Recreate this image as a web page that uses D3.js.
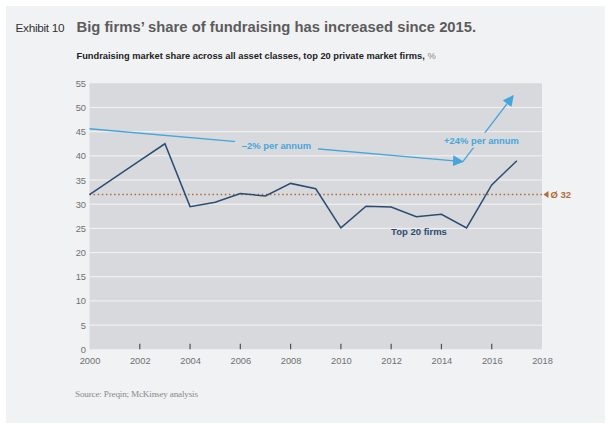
<!DOCTYPE html>
<html>
<head>
<meta charset="utf-8">
<script src="https://cdn.jsdelivr.net/npm/d3@7"></script>
<style>
  body { margin: 0; background: #fff; }
  text { font-family: "Liberation Sans", Arial, sans-serif; }
</style>
</head>
<body>
<div id="chart"></div>
<script>
// Data
const years = [2000, 2001, 2002, 2003, 2004, 2005, 2006, 2007, 2008, 2009,
               2010, 2011, 2012, 2013, 2014, 2015, 2016, 2017];
const top20Share = [32.0, 35.5, 39.0, 42.5, 29.5, 30.4, 32.2, 31.7, 34.3, 33.2,
                    25.1, 29.6, 29.4, 27.4, 27.9, 25.1, 34.0, 39.0];
const average = 32;
const trendDown = [[2000, 45.6], [2014.85, 38.8]];
const trendUp = [[2014.85, 38.8], [2016.85, 52.4]];
const yTicks = [0, 5, 10, 15, 20, 25, 30, 35, 40, 45, 50, 55];
const xTicks = [2000, 2002, 2004, 2006, 2008, 2010, 2012, 2014, 2016, 2018];

const svgWidth = 612;
const svgHeight = 430;
const plot = { left: 89.5, right: 542, top: 83.3, bottom: 349.3 };

const navy = "#2b4c73";
const lightBlue = "#45a6dc";
const brown = "#b06c3a";
const plotBg = "#d8d9dc";

const svg = d3.select("#chart").append("svg")
    .attr("width", svgWidth)
    .attr("height", svgHeight);

// marker for arrowheads
svg.append("defs").append("marker")
    .attr("id", "arrow")
    .attr("viewBox", "0 0 10 10")
    .attr("refX", 9)
    .attr("refY", 5)
    .attr("markerUnits", "userSpaceOnUse")
    .attr("markerWidth", 11)
    .attr("markerHeight", 11)
    .attr("orient", "auto")
    .append("path")
    .attr("d", "M0,0 L10,5 L0,10 Z")
    .attr("fill", lightBlue);

// grey panel
svg.append("rect")
    .attr("x", 6).attr("y", 6)
    .attr("width", 599).attr("height", 417)
    .attr("fill", "#f1f2f4");

// Scales
const x = d3.scaleLinear().domain([2000, 2018]).range([plot.left, plot.right]);
const y = d3.scaleLinear().domain([0, 55]).range([plot.bottom, plot.top]);

// plot background
svg.append("rect")
    .attr("x", x(2000)).attr("y", y(55))
    .attr("width", x(2018) - x(2000))
    .attr("height", y(0) - y(55))
    .attr("fill", plotBg);

// gridlines
svg.append("g")
    .selectAll("line")
    .data(yTicks.filter(d => d > 0 && d < 55))
    .enter().append("line")
    .attr("x1", x(2000)).attr("x2", x(2018))
    .attr("y1", d => y(d)).attr("y2", d => y(d))
    .attr("stroke", "#f4f4f5")
    .attr("stroke-width", 1);

// y axis labels
const yAxis = svg.append("g")
    .attr("transform", "translate(" + (x(2000) - 3.5) + ",0)")
    .call(d3.axisLeft(y).tickValues(yTicks).tickSize(0).tickPadding(0));
yAxis.select(".domain").remove();
yAxis.selectAll("text")
    .attr("fill", "#707070")
    .style("font-size", "9.3px")
    .style("font-family", "Liberation Sans, Arial, sans-serif");

// x axis labels
const xAxis = svg.append("g")
    .attr("transform", "translate(0," + y(0) + ")")
    .call(d3.axisBottom(x).tickValues(xTicks).tickFormat(d3.format("d")).tickSize(0).tickPadding(8));
xAxis.select(".domain").remove();
xAxis.selectAll("text")
    .attr("fill", "#707070")
    .style("font-size", "9.3px")
    .style("font-family", "Liberation Sans, Arial, sans-serif");

// small tick marks inside the plot
svg.append("g")
    .selectAll("line")
    .data(xTicks.filter(d => d > 2000 && d < 2018))
    .enter().append("line")
    .attr("x1", d => x(d)).attr("x2", d => x(d))
    .attr("y1", y(0) - 5.5).attr("y2", y(0))
    .attr("stroke", "#505050")
    .attr("stroke-width", 1.2);

// average line
svg.append("line")
    .attr("x1", x(2000)).attr("x2", x(2018))
    .attr("y1", y(average)).attr("y2", y(average))
    .attr("stroke", brown)
    .attr("stroke-width", 1.5)
    .attr("stroke-dasharray", "1.5,2.6");

svg.append("path")
    .attr("d", "M" + (x(2018) + 1.5) + "," + y(average) +
               " l5,-3.5 l0,7 Z")
    .attr("fill", brown);

svg.append("text")
    .attr("x", x(2018) + 8.5)
    .attr("y", y(average) + 3.4)
    .attr("fill", brown)
    .style("font-size", "9.5px")
    .style("font-weight", "bold")
    .text("Ø 32");

// trend arrows
const trendLine = d3.line().x(d => x(d[0])).y(d => y(d[1]));

svg.append("path")
    .datum(trendDown)
    .attr("d", trendLine)
    .attr("fill", "none")
    .attr("stroke", lightBlue)
    .attr("stroke-width", 1.3)
    .attr("marker-end", "url(#arrow)");

svg.append("path")
    .datum(trendUp)
    .attr("d", trendLine)
    .attr("fill", "none")
    .attr("stroke", lightBlue)
    .attr("stroke-width", 1.3)
    .attr("marker-end", "url(#arrow)");

// trend labels with background to cut the line
function gapLabel(cx, cy, w, h, label) {
    svg.append("rect")
        .attr("x", cx - w / 2).attr("y", cy - h / 2)
        .attr("width", w).attr("height", h)
        .attr("fill", plotBg);
    svg.append("text")
        .attr("x", cx)
        .attr("y", cy + 3.3)
        .attr("text-anchor", "middle")
        .attr("fill", lightBlue)
        .style("font-size", "9.4px")
        .style("font-weight", "bold")
        .text(label);
}
gapLabel(276.5, 145.5, 83, 10, "\u20132% per annum");
gapLabel(481.5, 140.2, 79, 15, "+24% per annum");

// main series
const mainLine = d3.line()
    .x((d, i) => x(years[i]))
    .y(d => y(d));

svg.append("path")
    .datum(top20Share)
    .attr("d", mainLine)
    .attr("fill", "none")
    .attr("stroke", navy)
    .attr("stroke-width", 1.5)
    .attr("stroke-linejoin", "miter");

svg.append("text")
    .attr("x", 419)
    .attr("y", 234.5)
    .attr("text-anchor", "middle")
    .attr("fill", navy)
    .style("font-size", "9.5px")
    .style("font-weight", "bold")
    .text("Top 20 firms");

// titles
svg.append("text")
    .attr("x", 15.5)
    .attr("y", 32)
    .attr("fill", "#333")
    .style("font-size", "11.8px")
    .style("letter-spacing", "-0.3px")
    .text("Exhibit 10");

svg.append("text")
    .attr("x", 76.5)
    .attr("y", 32)
    .attr("fill", "#5c5c5c")
    .style("font-size", "14.8px")
    .style("font-weight", "bold")
    .text("Big firms\u2019 share of fundraising has increased since 2015.");

const sub = svg.append("text")
    .attr("x", 76.5)
    .attr("y", 59.3)
    .attr("fill", "#222")
    .style("font-size", "9.3px")
    .style("font-weight", "bold");
sub.append("tspan").text("Fundraising market share across all asset classes, top 20 private market firms, ");
sub.append("tspan").attr("fill", "#888").style("font-weight", "normal").text("%");

// source
svg.append("text")
    .attr("x", 75)
    .attr("y", 396.5)
    .attr("fill", "#8a8a8a")
    .style("font-family", "Liberation Serif, Times New Roman, serif")
    .style("font-size", "9.2px")
    .style("letter-spacing", "-0.2px")
    .text("Source: Preqin; McKinsey analysis");
</script>
</body>
</html>
